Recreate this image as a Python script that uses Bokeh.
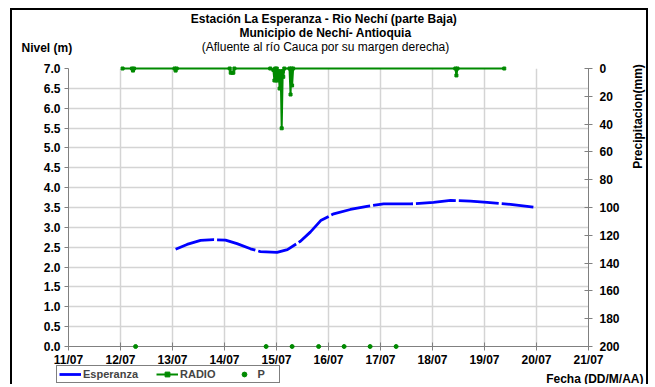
import math
from bokeh.plotting import figure
from bokeh.models import (Range1d, LinearAxis, FixedTicker, Label, Legend,
                          LegendItem)
from bokeh.embed import file_html
from bokeh.resources import INLINE

# ---- data -------------------------------------------------------------
day_ticks = [0, 1, 2, 3, 4, 5, 6, 7, 8, 9, 10]
day_labels = ["11/07", "12/07", "13/07", "14/07", "15/07", "16/07",
              "17/07", "18/07", "19/07", "20/07", "21/07"]
level_ticks = [0.0, 0.5, 1.0, 1.5, 2.0, 2.5, 3.0, 3.5, 4.0, 4.5, 5.0,
               5.5, 6.0, 6.5, 7.0]
precip_ticks = [0, 20, 40, 60, 80, 100, 120, 140, 160, 180, 200]

# Esperanza level (m); time in days since 11/07 00:00
esperanza_t = [2.06, 2.28, 2.54, 2.79, 3.02, 3.24, 3.50, 3.69, 4.01, 4.21,
               4.46, 4.65, 4.85, 5.10, 5.42, 5.74, 6.06, 6.58, 7.02, 7.35,
               7.73, 8.05, 8.50, 8.94]
esperanza_m = [2.45, 2.57, 2.67, 2.69, 2.68, 2.59, 2.46, 2.39, 2.37, 2.44,
               2.65, 2.88, 3.17, 3.34, 3.45, 3.53, 3.59, 3.59, 3.63, 3.68,
               3.66, 3.63, 3.58, 3.51]

# RADIO precipitation (mm), right axis
radio_t = [1.04, 1.22, 1.24, 1.26, 2.04, 2.06, 2.08, 3.10, 3.12, 3.15,
           3.17, 3.19, 3.88, 3.94, 3.96, 3.975, 3.99, 4.005, 4.02, 4.04,
           4.06, 4.08, 4.10, 4.12, 4.13, 4.15, 4.25, 4.27, 4.285, 4.30,
           4.32, 7.44, 7.46, 7.48, 8.38]
radio_mm = [0, 0, 1.5, 0, 0, 1.5, 0, 0, 3, 3,
            3, 0, 0, 1, 8.6, 0, 8.6, 0, 8.6, 2,
            14.4, 2, 43, 2, 6, 0, 0, 18.7, 0, 12.2,
            0, 0, 5, 0, 0]

# P points (plotted on the level axis baseline)
p_t = [1.29, 3.80, 4.30, 4.81, 5.30, 5.80, 6.30]
p_val = [0, 0, 0, 0, 0, 0, 0]

# ---- layout constants ---------------------------------------------------
FONT = "Liberation Sans"
GREEN = "#008a00"
BLUE = "#0000ff"
W, H = 638, 376                     # canvas size
BL, BR, BT, BB = 56, 62, 58, 40     # plot-area borders inside the canvas
X0, X1, Y0, Y1, P0, P1 = 0, 10, 0, 7, 200, 0
FW, FH = W - BL - BR, H - BT - BB   # plot-area size
MARGIN_L, MARGIN_T, BORDER = 10, 8, 2
OVERLAY_SHIFT = 2                   # measured flow offset of the overlay

frame_styles = {"margin-left": f"{MARGIN_L}px",
                "border-top": f"{BORDER}px solid black",
                "border-left": f"{BORDER}px solid black",
                "border-right": f"{BORDER}px solid black"}

# ---- base figure: grid + axes --------------------------------------------
base = figure(width=W, height=H, output_backend="svg", toolbar_location=None,
              x_range=Range1d(X0, X1), y_range=Range1d(Y0, Y1),
              min_border_left=BL, min_border_right=BR, min_border_top=BT,
              min_border_bottom=BB)
base.styles = dict(frame_styles, **{"margin-top": f"{MARGIN_T}px"})
base.outline_line_color = None
base.extra_y_ranges = {"pp": Range1d(start=P0, end=P1)}

base.xgrid.ticker = FixedTicker(ticks=day_ticks)
base.ygrid.ticker = FixedTicker(ticks=level_ticks)
for g in (base.xgrid, base.ygrid):
    g.grid_line_color = "#d4d4d4"
    g.grid_line_width = 1.5

xa = base.xaxis[0]
xa.ticker = FixedTicker(ticks=day_ticks)
xa.major_label_overrides = {t: l for t, l in zip(day_ticks, day_labels)}
xa.major_tick_in = 4
xa.major_tick_out = 4
xa.major_label_standoff = 2

ya = base.yaxis[0]
ya.ticker = FixedTicker(ticks=level_ticks)
ya.major_label_overrides = {t: f"{t:.1f}" for t in level_ticks}
ya.major_tick_in = 0
ya.major_tick_out = 4
ya.major_label_standoff = 4

ra = LinearAxis(y_range_name="pp", ticker=FixedTicker(ticks=precip_ticks))
ra.major_label_overrides = {t: str(t) for t in precip_ticks}
ra.major_tick_in = 4
ra.major_tick_out = 4
ra.major_label_standoff = 7
base.add_layout(ra, "right")

for ax in (xa, ya, ra):
    ax.minor_tick_line_color = None
    ax.axis_line_color = "#808080"
    ax.major_tick_line_color = "#808080"
    ax.major_label_text_font = FONT
    ax.major_label_text_font_style = "bold"
    ax.major_label_text_font_size = "12px"
    ax.major_label_text_color = "black"

# ---- overlay figure: data, legend, texts (frame = whole canvas) -----------
sx_per_day = FW / (X1 - X0)
sy_per_m = FH / (Y1 - Y0)
sy_per_mm = FH / (P0 - P1)
over = figure(width=W, height=H, output_backend="svg", toolbar_location=None,
              x_axis_location=None, y_axis_location=None,
              x_range=Range1d(X0 - BL / sx_per_day, X1 + BR / sx_per_day),
              y_range=Range1d(Y0 - BB / sy_per_m, Y1 + BT / sy_per_m),
              min_border=0)
over.styles = dict(frame_styles, **{
    "margin-top": f"{MARGIN_T - (MARGIN_T + BORDER + H) + OVERLAY_SHIFT}px"})
over.extra_y_ranges = {"pp": Range1d(start=P0 + BB / sy_per_mm,
                                     end=P1 - BT / sy_per_mm)}
over.outline_line_color = None
over.background_fill_alpha = 0
over.border_fill_alpha = 0
over.grid.visible = False

blue = over.line(esperanza_t, esperanza_m, line_color=BLUE, line_width=2.8,
                 line_dash="40 3")
radio_line = over.line(radio_t, radio_mm, y_range_name="pp",
                       line_color=GREEN, line_width=2)
radio_pts = over.scatter(radio_t, radio_mm, y_range_name="pp",
                         marker="square", size=3, color=GREEN)
p_pts = over.scatter(p_t, p_val, marker="circle", size=4, color=GREEN)


# page position -> overlay screen coordinates (origin bottom-left of canvas)
def sx(page_x):
    return page_x - (MARGIN_L + BORDER)


def sy(page_y):
    return (MARGIN_T + BORDER + H) - page_y


legend = Legend(items=[
    LegendItem(label="Esperanza", renderers=[blue]),
    LegendItem(label="RADIO", renderers=[radio_line, radio_pts]),
    LegendItem(label="P", renderers=[p_pts]),
], orientation="horizontal", location=(sx(56), sy(383)),
    border_line_color="black", border_line_width=1, padding=2, spacing=18,
    glyph_width=22, glyph_height=12, label_standoff=2, label_height=12,
    label_text_font=FONT, label_text_font_style="bold",
    label_text_font_size="11px", margin=0, background_fill_alpha=1)
over.add_layout(legend, "center")


def add_label(text, page_x, page_y, size="12px", style="bold",
              align="center", angle=0.0):
    over.add_layout(Label(x=sx(page_x), y=sy(page_y),
                          x_units="screen", y_units="screen",
                          text=text, text_font=FONT, text_font_size=size,
                          text_font_style=style, text_align=align,
                          text_baseline="middle", angle=angle,
                          text_color="black"))


add_label("Estación La Esperanza - Rio Nechí  (parte Baja)", 325, 18)
add_label("Municipio de Nechí- Antioquia", 325, 32)
add_label("(Afluente al río Cauca por su margen derecha)", 325, 46,
          style="normal")
add_label("Nivel (m)", 21, 47, align="left")
add_label("Precipitacion(mm)", 637, 116, angle=math.pi / 2)
add_label("Fecha (DD/M/AA)", 643, 378, align="right")

open("out.html", "w").write(file_html([base, over], INLINE))
